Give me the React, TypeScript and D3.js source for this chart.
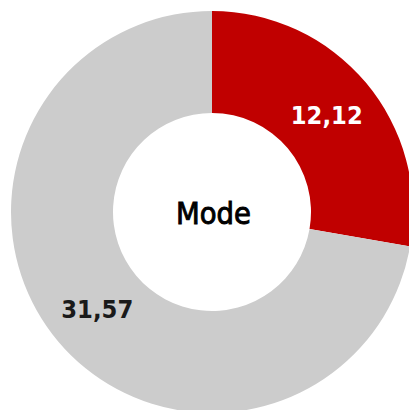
import React from "react";
import * as d3 from "d3";

const categories = ["A", "B"];
const values = [12.12, 31.57];
const labels = ["12,12", "31,57"];
const colors = ["#C00000", "#CCCCCC"];
const labelColors = ["#FFFFFF", "#1A1A1A"];
const centerTitle = "Mode";

export default function App() {
  const W = 409, H = 410;
  const cx = 212, cy = 212, R = 201, r = 99;
  const pie = d3.pie<number>().sort(null).value((d) => d)(values);
  const arc = d3.arc<d3.PieArcDatum<number>>().innerRadius(r).outerRadius(R);
  return (
    <svg width={W} height={H} style={{ position: "absolute", left: 0, top: 0 }}>
      <rect width={W} height={H} fill="#fff" />
      <g transform={`translate(${cx},${cy})`}>
        {pie.map((p, i) => (
          <path key={categories[i]} d={arc(p) || ""} fill={colors[i]} />
        ))}
        {pie.map((p, i) => {
          const [x, y] = arc.centroid(p);
          return (
            <text
              key={"l" + i}
              x={x}
              y={y}
              dy="0.36em"
              textAnchor="middle"
              fontFamily="DejaVu Sans"
              fontWeight="bold"
              fontSize={25}
              fill={labelColors[i]}
              textLength={72}
              lengthAdjust="spacingAndGlyphs"
            >
              {labels[i]}
            </text>
          );
        })}
        <text
          x={1.5}
          y={1}
          dy="0.36em"
          textAnchor="middle"
          fontFamily="DejaVu Sans"
          fontSize={31}
          fill="#000"
          stroke="#000"
          strokeWidth={1}
          textLength={75}
          lengthAdjust="spacingAndGlyphs"
        >
          {centerTitle}
        </text>
      </g>
    </svg>
  );
}
